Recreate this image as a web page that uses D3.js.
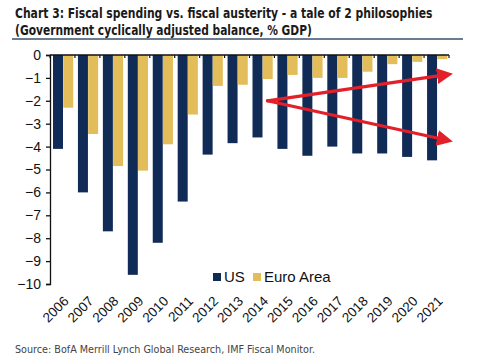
<!DOCTYPE html>
<html lang="en">
<head>
<meta charset="UTF-8">
<title>Chart 3</title>
<script src="https://cdn.jsdelivr.net/npm/d3@7"></script>
<style>
  body { margin: 0; background: #fff; }
  svg { display: block; }
</style>
</head>
<body>
<svg width="500" height="363"></svg>
<script>
// data (% of GDP)
const years = ['2006','2007','2008','2009','2010','2011','2012','2013','2014','2015','2016','2017','2018','2019','2020','2021']
const us = [-4.1, -6.0, -7.7, -9.6, -8.2, -6.4, -4.35, -3.85, -3.6, -4.1, -4.4, -4.0, -4.3, -4.3, -4.45, -4.6]
const euro = [-2.3, -3.45, -4.85, -5.05, -3.9, -2.6, -1.35, -1.3, -1.05, -0.87, -1.0, -1.0, -0.73, -0.4, -0.3, -0.18]
const yTicks = [0, -1, -2, -3, -4, -5, -6, -7, -8, -9, -10]
const seriesNames = ['US', 'Euro Area']
const colors = ['#112b57', '#e2bd5a']

const svg = d3.select('svg')
const m = { left: 50, right: 51, top: 55, bottom: 79 }
const W = 500, H = 363

const x = d3.scaleBand().domain(years).range([m.left, W - m.right]).paddingInner(0).paddingOuter(0)
const y = d3.scaleLinear().domain([0, -10]).range([m.top, H - m.bottom])
const bw = x.bandwidth()

// title - squeeze horizontally to the width of the original narrow font
function squeezed(txt, px, py, size, width) {
  const t = svg.append('text')
    .attr('font-family', '"DejaVu Sans Condensed", "DejaVu Sans"').attr('font-weight', 'bold')
    .attr('font-size', size).attr('fill', '#1a1a1a').text(txt)
  const w = t.node().getComputedTextLength()
  t.attr('transform', `translate(${px},${py}) scale(${width / w},1)`)
}
squeezed('Chart 3: Fiscal spending vs. fiscal austerity  - a tale of 2 philosophies', 15, 18, 14.5, 418)
squeezed('(Government cyclically adjusted balance, % GDP)', 15, 35, 14.5, 297)
svg.append('line').attr('x1', 12).attr('x2', 463).attr('y1', 39).attr('y2', 39)
  .attr('stroke', '#6a7c90').attr('stroke-width', 2)

// bars
const rows = years.map((yr, i) => ({ year: yr, vals: [us[i], euro[i]] }))
const g = svg.append('g')
g.selectAll('g.yr').data(rows).enter().append('g')
  .attr('transform', d => `translate(${x(d.year)},0)`)
  .selectAll('rect').data(d => d.vals).enter().append('rect')
  .attr('x', (d, i) => 3 + i * 10.2)
  .attr('width', 10)
  .attr('y', y(0))
  .attr('height', d => y(d) - y(0))
  .attr('fill', (d, i) => colors[i])

// y axis
const yAxis = svg.append('g').attr('transform', `translate(${m.left},0)`)
  .call(d3.axisLeft(y).tickValues(yTicks).tickSize(4).tickPadding(5).tickFormat(d3.format('d')))
yAxis.select('.domain').attr('stroke', '#111').attr('stroke-width', 1.3)
yAxis.selectAll('.tick line').attr('stroke', '#111').attr('stroke-width', 1.3)
yAxis.selectAll('text').attr('font-family', 'Liberation Sans, Arial').attr('font-size', 14).attr('fill', '#111')

// x axis line at zero with small ticks at group boundaries
svg.append('line').attr('x1', m.left).attr('x2', W - m.right).attr('y1', y(0)).attr('y2', y(0))
  .attr('stroke', '#111').attr('stroke-width', 1.5)
svg.append('g').selectAll('line').data(years.concat(['end'])).enter().append('line')
  .attr('x1', (d, i) => m.left + i * bw).attr('x2', (d, i) => m.left + i * bw)
  .attr('y1', y(0)).attr('y2', y(0) + 3)
  .attr('stroke', '#111').attr('stroke-width', 1.2)

// x labels, rotated
svg.append('g').selectAll('text').data(years).enter().append('text')
  .attr('transform', d => `translate(${x(d) + bw / 2 + 7},${y(-10) + 18}) rotate(-45)`)
  .attr('text-anchor', 'end')
  .attr('font-family', 'Liberation Sans, Arial')
  .attr('font-size', 13.5)
  .attr('fill', '#111')
  .text(d => d)

// red arrows
const defs = svg.append('defs')
defs.append('marker').attr('id', 'ah').attr('viewBox', '0 0 10 10').attr('refX', 5).attr('refY', 5)
  .attr('markerWidth', 5).attr('markerHeight', 5).attr('orient', 'auto')
  .append('path').attr('d', 'M0,0 L10,5 L0,10 z').attr('fill', '#e3202a')
const start = [x('2014') + bw * 0.72, y(-2.0)]
const ends = [[W - m.right - 4, y(-0.87)], [W - m.right - 4, y(-3.7)]]
svg.append('g').selectAll('line').data(ends).enter().append('line')
  .attr('x1', start[0]).attr('y1', start[1])
  .attr('x2', d => d[0]).attr('y2', d => d[1])
  .attr('stroke', '#e3202a').attr('stroke-width', 3.2).attr('stroke-linecap', 'round')
  .attr('marker-end', 'url(#ah)')

// legend
const legX = [213, 253]
const leg = svg.append('g').selectAll('g').data(seriesNames).enter().append('g')
  .attr('transform', (d, i) => `translate(${legX[i]},273)`)
leg.append('rect').attr('width', 8).attr('height', 8).attr('fill', (d, i) => colors[i])
leg.append('text').attr('x', 11).attr('y', 9).attr('font-family', 'Liberation Sans, Arial')
  .attr('font-size', 15).attr('fill', '#111').text(d => d)

// source
svg.append('text').attr('x', 15).attr('y', 353)
  .attr('font-family', '"DejaVu Sans Condensed", "DejaVu Sans"').attr('font-size', 10.5).attr('fill', '#444')
  .attr('textLength', 300).attr('lengthAdjust', 'spacingAndGlyphs')
  .text('Source:  BofA Merrill Lynch Global Research, IMF Fiscal Monitor.')
</script>
</body>
</html>
